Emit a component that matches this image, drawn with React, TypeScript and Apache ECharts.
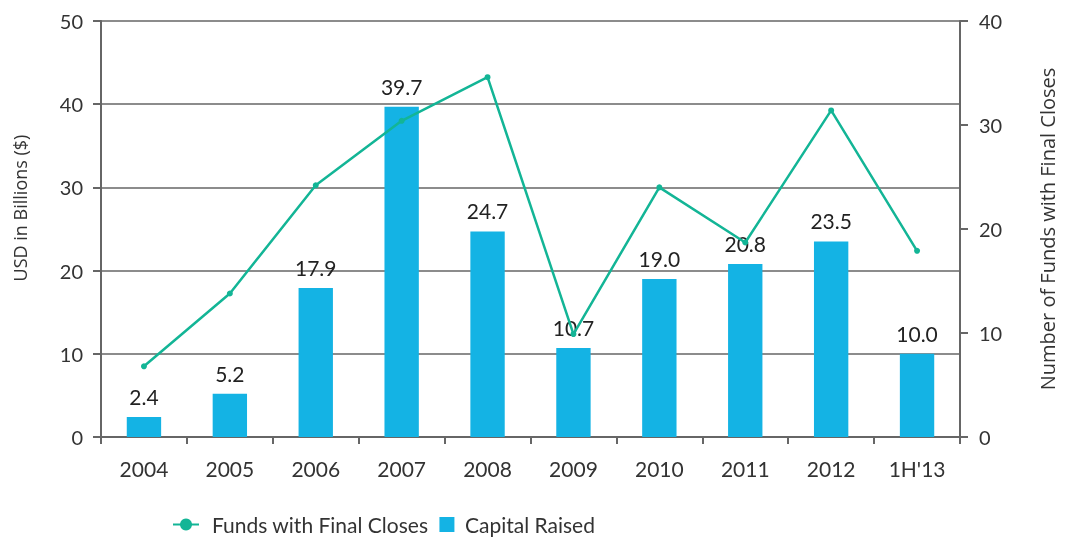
import React, { useEffect, useRef } from "react";
import * as echarts from "echarts";

const categories = ["2004", "2005", "2006", "2007", "2008", "2009", "2010", "2011", "2012", "1H'13"];
const capitalRaised = [2.4, 5.2, 17.9, 39.7, 24.7, 10.7, 19.0, 20.8, 23.5, 10.0];
const fundsClosed = [6.8, 13.8, 24.2, 30.4, 34.6, 9.9, 24.0, 18.7, 31.4, 17.9];
const leftTicks = [0, 10, 20, 30, 40, 50];
const rightTicks = [0, 10, 20, 30, 40];

const FONT = "Lato, 'Open Sans', sans-serif";
const NAME_FONT = "'Open Sans', Lato, sans-serif";

export default function App() {
  const ref = useRef<HTMLDivElement>(null);
  useEffect(() => {
    const chart = echarts.init(ref.current!, null, { renderer: "svg" });
    chart.setOption({
      animation: false,
      textStyle: { fontFamily: FONT },
      grid: { left: 101, right: 102, top: 21, bottom: 101 },
      legend: {
        top: 509,
        left: 167,
        itemGap: 11,
        itemWidth: 26,
        itemHeight: 15,
        textStyle: { fontSize: 21, color: "#333", fontFamily: FONT },
        data: [
          { name: "Funds with Final Closes", textStyle: { padding: [0, 0, 0, 8] } },
          { name: "Capital Raised", icon: "path://M0,0h15v15h-15z" },
        ],
      },
      xAxis: {
        type: "category",
        data: categories,
        axisLine: { lineStyle: { color: "#666", width: 2 } },
        axisTick: { show: true, length: 7, lineStyle: { color: "#666", width: 2 } },
        axisLabel: { fontSize: 21, color: "#333", margin: 21, fontFamily: FONT },
      },
      yAxis: [
        {
          type: "value",
          min: leftTicks[0],
          max: leftTicks[leftTicks.length - 1],
          interval: 10,
          name: "USD in Billions ($)",
          nameLocation: "middle",
          nameGap: 72,
          nameTextStyle: { fontSize: 18, color: "#333", fontFamily: NAME_FONT, padding: [0, 0, 0, 42] },
          axisLine: { show: true, lineStyle: { color: "#666", width: 2 } },
          axisTick: { show: true, length: 8, lineStyle: { color: "#666", width: 2 } },
          axisLabel: { fontSize: 20, color: "#333", margin: 18, fontFamily: FONT },
          splitLine: { show: true, lineStyle: { color: "#666", width: 1.5 } },
        },
        {
          type: "value",
          min: rightTicks[0],
          max: rightTicks[rightTicks.length - 1],
          interval: 10,
          position: "right",
          name: "Number of Funds with Final Closes",
          nameLocation: "middle",
          nameGap: 77,
          nameRotate: 90,
          nameTextStyle: { fontSize: 20, color: "#333", fontFamily: NAME_FONT },
          axisLine: { show: true, lineStyle: { color: "#666", width: 2 } },
          axisTick: { show: true, length: 8, lineStyle: { color: "#666", width: 2 } },
          axisLabel: { fontSize: 20, color: "#333", margin: 19, fontFamily: FONT },
          splitLine: { show: false },
        },
      ],
      series: [
        {
          name: "Capital Raised",
          type: "bar",
          yAxisIndex: 0,
          data: capitalRaised,
          barWidth: "40%",
          itemStyle: { color: "#14b3e4" },
          label: {
            show: true,
            position: "top",
            distance: 10,
            fontSize: 21,
            color: "#222",
            fontFamily: FONT,
            formatter: (p: any) => Number(p.value).toFixed(1),
          },
          z: 2,
        },
        {
          name: "Funds with Final Closes",
          type: "line",
          yAxisIndex: 1,
          data: fundsClosed,
          symbol: "circle",
          symbolSize: 6,
          lineStyle: { color: "#13b596", width: 2.5 },
          itemStyle: { color: "#13b596" },
          z: 3,
        },
      ],
    });
    return () => chart.dispose();
  }, []);
  return (
    <div
      ref={ref}
      style={{ position: "fixed", left: 0, top: 0, width: 1065, height: 538 }}
    />
  );
}
